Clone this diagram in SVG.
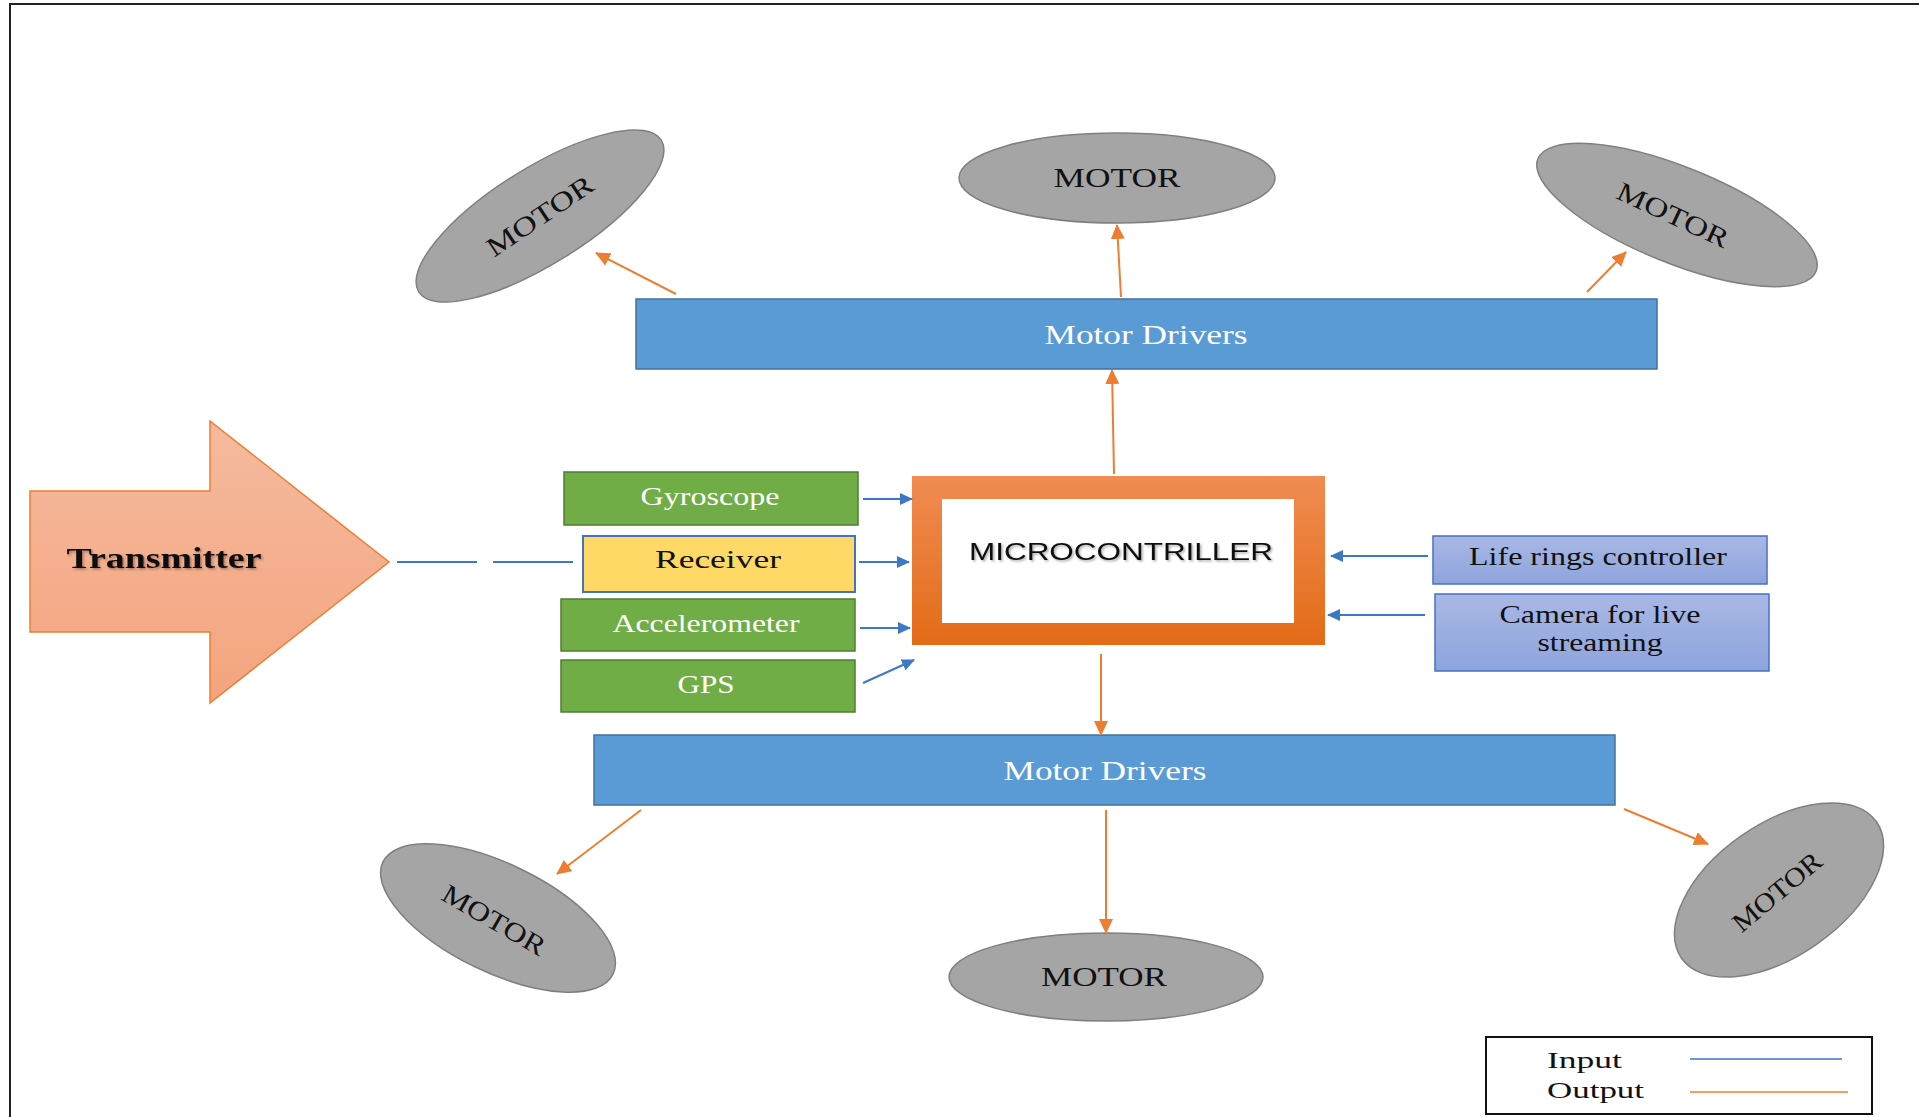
<svg xmlns="http://www.w3.org/2000/svg" width="1919" height="1117" viewBox="0 0 1919 1117">
  <style>
    .motor ellipse { fill: #A5A5A5; stroke: #7F7F7F; stroke-width: 1.5; }
    .motor text { font-family: "Liberation Serif", serif; font-size: 27px; fill: #111; text-anchor: middle; }
    .drv rect { fill: #5B9BD5; stroke: #41719C; stroke-width: 1.5; }
    .drv text { font-family: "Liberation Serif", serif; font-size: 27px; fill: #fff; text-anchor: middle; }
    .sensor rect { fill: #70AD47; stroke: #507E32; stroke-width: 1.5; }
    .sensor text { font-family: "Liberation Serif", serif; font-size: 25px; fill: #fff; text-anchor: middle; }
    .perip rect { fill: url(#lav); stroke: #4472C4; stroke-width: 1.5; }
    .perip text { font-family: "Liberation Serif", serif; font-size: 25px; fill: #111; text-anchor: middle; }
    .out { stroke: #ED7D31; stroke-width: 2; fill: none; marker-end: url(#ah-o); }
    .in { stroke: #3D78C4; stroke-width: 2; fill: none; marker-end: url(#ah-b); }
    .legend text { font-family: "Liberation Serif", serif; font-size: 24px; fill: #111; }
  </style>
  <defs>
    <marker id="ah-o" markerUnits="userSpaceOnUse" markerWidth="15" markerHeight="14" refX="14" refY="7" orient="auto">
      <path d="M0,0 L15,7 L0,14 z" fill="#ED7D31"/>
    </marker>
    <marker id="ah-b" markerUnits="userSpaceOnUse" markerWidth="13" markerHeight="12" refX="12" refY="6" orient="auto">
      <path d="M0,0 L13,6 L0,12 z" fill="#3D78C4"/>
    </marker>
    <linearGradient id="lav" x1="0" y1="0" x2="0" y2="1">
      <stop offset="0" stop-color="#A9B8E4"/>
      <stop offset="1" stop-color="#8EA4DD"/>
    </linearGradient>
    <linearGradient id="org" x1="0" y1="0" x2="0" y2="1">
      <stop offset="0" stop-color="#F08C52"/>
      <stop offset="1" stop-color="#E36B17"/>
    </linearGradient>
    <linearGradient id="salmon" x1="0" y1="0" x2="0" y2="1">
      <stop offset="0" stop-color="#F5BA9E"/>
      <stop offset="1" stop-color="#F4A47E"/>
    </linearGradient>
    <filter id="shadow" x="-10%" y="-30%" width="120%" height="160%">
      <feDropShadow dx="1.5" dy="1.5" stdDeviation="1" flood-color="#000" flood-opacity="0.35"/>
    </filter>
  </defs>

  <rect x="0" y="0" width="1919" height="1117" fill="#fff"/>
  <path d="M10,1117 V4 H1919" fill="none" stroke="#222" stroke-width="2"/>

  <!-- Motors -->
  <g id="motor-top-left" class="motor">
    <ellipse cx="540" cy="216" rx="143" ry="48" transform="rotate(-32 540 216)"/>
    <text x="540" y="225" textLength="123" lengthAdjust="spacingAndGlyphs" transform="rotate(-34 540 216)">MOTOR</text>
  </g>
  <g id="motor-top" class="motor">
    <ellipse cx="1117" cy="178" rx="158" ry="45"/>
    <text x="1117" y="187" textLength="127" lengthAdjust="spacingAndGlyphs">MOTOR</text>
  </g>
  <g id="motor-top-right" class="motor">
    <ellipse cx="1677" cy="215" rx="150" ry="48" transform="rotate(22 1677 215)"/>
    <text x="1673" y="224" textLength="120" lengthAdjust="spacingAndGlyphs" transform="rotate(25 1673 215)">MOTOR</text>
  </g>
  <g id="motor-bottom-left" class="motor">
    <ellipse cx="498" cy="918" rx="128" ry="54" transform="rotate(26 498 918)"/>
    <text x="494" y="929" textLength="115" lengthAdjust="spacingAndGlyphs" transform="rotate(30 494 920)">MOTOR</text>
  </g>
  <g id="motor-bottom" class="motor">
    <ellipse cx="1106" cy="977" rx="157" ry="44"/>
    <text x="1104" y="986" textLength="126" lengthAdjust="spacingAndGlyphs">MOTOR</text>
  </g>
  <g id="motor-bottom-right" class="motor">
    <ellipse cx="1779" cy="890" rx="119" ry="66" transform="rotate(-35 1779 890)"/>
    <text x="1777" y="901" textLength="108" lengthAdjust="spacingAndGlyphs" transform="rotate(-40 1777 892)">MOTOR</text>
  </g>

  <!-- Motor drivers -->
  <g id="drivers-top" class="drv">
    <rect x="636" y="299" width="1021" height="70"/>
    <text x="1146" y="344" textLength="203" lengthAdjust="spacingAndGlyphs">Motor Drivers</text>
  </g>
  <g id="drivers-bottom" class="drv">
    <rect x="594" y="735" width="1021" height="70"/>
    <text x="1105" y="780" textLength="203" lengthAdjust="spacingAndGlyphs">Motor Drivers</text>
  </g>

  <!-- Microcontroller -->
  <g id="microcontroller">
    <rect x="912" y="476" width="413" height="169" fill="url(#org)"/>
    <rect x="942" y="499" width="352" height="124" fill="#fff"/>
    <text x="1121" y="560" font-family="Liberation Sans, Arial, sans-serif" font-size="24" fill="#111" text-anchor="middle" textLength="304" lengthAdjust="spacingAndGlyphs" filter="url(#shadow)">MICROCONTRILLER</text>
  </g>

  <!-- Transmitter -->
  <g id="transmitter">
    <polygon points="30,491 210,491 210,421 389,562 210,703 210,632 30,632" fill="url(#salmon)" stroke="#ED7D31" stroke-width="1.5"/>
    <text x="164" y="568" font-family="Liberation Serif, serif" font-size="30" font-weight="bold" fill="#111" text-anchor="middle" textLength="195" lengthAdjust="spacingAndGlyphs" filter="url(#shadow)">Transmitter</text>
  </g>

  <!-- Sensors -->
  <g id="gyroscope" class="sensor">
    <rect x="564" y="472" width="294" height="53"/>
    <text x="710" y="505" textLength="139" lengthAdjust="spacingAndGlyphs">Gyroscope</text>
  </g>
  <g id="receiver">
    <rect x="583" y="536" width="272" height="56" fill="#FFD966" stroke="#4472C4" stroke-width="2"/>
    <text x="718" y="568" font-family="Liberation Serif, serif" font-size="25" fill="#111" text-anchor="middle" textLength="126" lengthAdjust="spacingAndGlyphs">Receiver</text>
  </g>
  <g id="accelerometer" class="sensor">
    <rect x="561" y="599" width="294" height="52"/>
    <text x="706" y="632" textLength="187" lengthAdjust="spacingAndGlyphs">Accelerometer</text>
  </g>
  <g id="gps" class="sensor">
    <rect x="561" y="660" width="294" height="52"/>
    <text x="706" y="693" textLength="57" lengthAdjust="spacingAndGlyphs">GPS</text>
  </g>

  <!-- Peripherals -->
  <g id="life-rings" class="perip">
    <rect x="1433" y="536" width="334" height="48"/>
    <text x="1598" y="565" textLength="258" lengthAdjust="spacingAndGlyphs">Life rings controller</text>
  </g>
  <g id="camera" class="perip">
    <rect x="1435" y="594" width="334" height="77"/>
    <text x="1600" y="623" textLength="201" lengthAdjust="spacingAndGlyphs">Camera for live</text>
    <text x="1600" y="651" textLength="125" lengthAdjust="spacingAndGlyphs">streaming</text>
  </g>

  <!-- Connectors -->
  <g id="connectors">
    <line class="out" x1="676" y1="294" x2="596" y2="253"/>
    <line class="out" x1="1121" y1="297" x2="1117" y2="225"/>
    <line class="out" x1="1587" y1="292" x2="1626" y2="252"/>
    <line class="out" x1="1114" y1="474" x2="1112" y2="370"/>
    <line class="out" x1="1101" y1="654" x2="1101" y2="735"/>
    <line class="out" x1="641" y1="810" x2="557" y2="874"/>
    <line class="out" x1="1106" y1="810" x2="1106" y2="933"/>
    <line class="out" x1="1624" y1="809" x2="1708" y2="844"/>
    <line class="in" x1="863" y1="499" x2="912" y2="499"/>
    <line class="in" x1="859" y1="562" x2="909" y2="562"/>
    <line class="in" x1="860" y1="628" x2="910" y2="628"/>
    <line class="in" x1="863" y1="683" x2="914" y2="660"/>
    <line class="in" x1="1428" y1="556" x2="1331" y2="556"/>
    <line class="in" x1="1425" y1="615" x2="1328" y2="615"/>
    <path d="M397,562 H477 M493,562 H573" stroke="#3D78C4" stroke-width="2" fill="none"/>
  </g>

  <!-- Legend -->
  <g id="legend" class="legend">
    <rect x="1486" y="1037" width="386" height="77" fill="#fff" stroke="#111" stroke-width="2"/>
    <text x="1547" y="1068" textLength="75" lengthAdjust="spacingAndGlyphs">Input</text>
    <text x="1547" y="1098" textLength="97" lengthAdjust="spacingAndGlyphs">Output</text>
    <line x1="1690" y1="1059" x2="1842" y2="1059" stroke="#3D78C4" stroke-width="1.5"/>
    <line x1="1690" y1="1092" x2="1848" y2="1092" stroke="#ED7D31" stroke-width="1.5"/>
  </g>
</svg>
